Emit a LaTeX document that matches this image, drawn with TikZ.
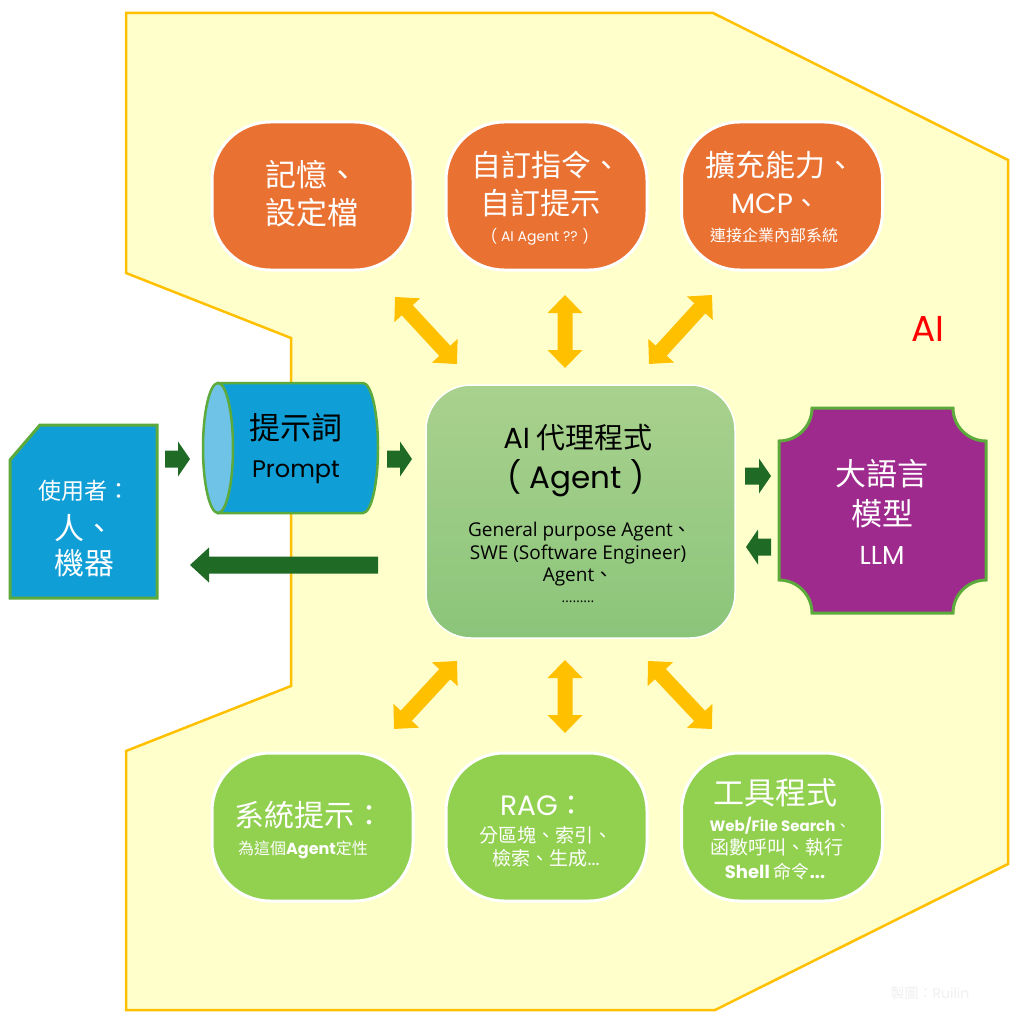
\documentclass[tikz,border=0pt]{standalone}
\usepackage{fontspec}
\setmainfont{Noto Sans CJK TC}
\newfontfamily\cj{Noto Sans CJK TC}
\newfontfamily\pp{Poppins}
\newfontfamily\os{Open Sans}
\newcommand\fsz[1]{\fontsize{#1}{#1}\selectfont}
\definecolor{bgyel}{HTML}{FFFFCC}
\definecolor{edgeyel}{HTML}{FFC000}
\definecolor{orng}{HTML}{E97132}
\definecolor{lgreen}{HTML}{92D050}
\definecolor{dgreen}{HTML}{1F6B25}
\definecolor{bgreen}{HTML}{5DAA3C}
\definecolor{ublue}{HTML}{0F9ED5}
\definecolor{cface}{HTML}{6EC3E6}
\definecolor{purp}{HTML}{9E2A8E}
\definecolor{agtop}{HTML}{A9D18E}
\definecolor{agbot}{HTML}{8BC57A}
% horizontal block arrow: tail x, tip x, y centre, signed head length
\newcommand\harrow[4]{%
  \fill[dgreen] (#1,{#3-8.5}) -- ({#2-#4},{#3-8.5}) -- ({#2-#4},{#3-17.5}) -- (#2,#3)
    -- ({#2-#4},{#3+17.5}) -- ({#2-#4},{#3+8.5}) -- (#1,{#3+8.5}) -- cycle;}
% double block arrow from (#1,#2) to (#3,#4)
\newcommand\yarrow[4]{%
  \pgfmathsetmacro\yang{atan2(-(#4-#2),#3-#1)}%
  \pgfmathsetmacro\ylen{veclen(#3-#1,#4-#2)}%
  \begin{scope}[shift={(#1,#2)},rotate=\yang]
    \fill[edgeyel] (0,0) -- (18,-17.5) -- (18,-7.5) -- ({\ylen-18},-7.5) -- ({\ylen-18},-17.5)
      -- (\ylen,0) -- ({\ylen-18},17.5) -- ({\ylen-18},7.5) -- (18,7.5) -- (18,17.5) -- cycle;
  \end{scope}}
\begin{document}
\begin{tikzpicture}[x=1pt,y=-1pt,
  txt/.style={inner sep=0pt, anchor=base},
  obox/.style={draw=white, line width=3pt, fill=orng, rounded corners=58pt,
    minimum width=201pt, minimum height=148pt, inner sep=0pt},
  gbox/.style={obox, fill=lgreen}]
\useasboundingbox (0,0) rectangle (1024,1024);
\fill[white] (0,0) rectangle (1024,1024);
% AI region
\filldraw[fill=bgyel, draw=edgeyel, line width=2.5pt, line join=miter]
  (126,13) -- (713,13) -- (1008,160) -- (1008,864) -- (715,1010) -- (126,1010)
  -- (126,751) -- (291,686) -- (291,338) -- (126,273) -- cycle;
\node[txt, font=\pp\fsz{36}, text=red] (ai) at (928,341) {AI};
\node[txt, font=\cj\fsz{14}, text=black!6] (wm) at (930,998) {製圖：{\pp Ruilin}};

% top boxes
\node[obox] (m1) at (312.5,196) {};
\node[obox] (m2) at (546.5,196) {};
\node[obox] (m3) at (782,196) {};
\node[txt, font=\cj\fsz{31}, text=white] (m1a) at (312,187) {記憶、};
\node[txt, font=\cj\fsz{31}, text=white] (m1b) at (312,225) {設定檔};
\node[txt, font=\cj\fsz{30}, text=white] (m2a) at (546,176.5) {自訂指令、};
\node[txt, font=\cj\fsz{30}, text=white] (m2b) at (540,214.5) {自訂提示};
\node[txt, font=\pp\fsz{14}, text=white] (m2c) at (540,241) {( AI Agent ?? )};
\node[txt, font=\cj\fsz{30}, text=white] (m3a) at (780,176.5) {擴充能力、};
\node[txt, font=\cj\fsz{28}, text=white] (m3b) at (776,214) {{\pp MCP}、};
\node[txt, font=\cj\fsz{16}, text=white] (m3c) at (774,241) {連接企業內部系統};

% bottom boxes
\node[gbox] (g1) at (312.5,827) {};
\node[gbox] (g2) at (546.5,827) {};
\node[gbox] (g3) at (782,827) {};
\node[txt, font=\cj\fsz{30}, text=white] (g1a) at (309,826) {系統提示：};
\node[txt, font=\cj\fsz{16}, text=white] (g1b) at (303,854) {為這個{\pp\bfseries Agent}定性};
\node[txt, font=\cj\fsz{28}, text=white] (g2a) at (543,815) {{\pp RAG}：};
\node[txt, font=\cj\fsz{19}, text=white] (g2b) at (546,842) {分區塊、索引、};
\node[txt, font=\cj\fsz{19}, text=white] (g2c) at (546,865) {檢索、生成{\pp ...}};
\node[txt, font=\cj\fsz{31}, text=white] (g3a) at (775,804) {工具程式};
\node[txt, font=\cj\fsz{15}, text=white] (g3b) at (780,831) {{\pp\bfseries Web/File Search}、};
\node[txt, font=\cj\fsz{19}, text=white] (g3c) at (777,854) {函數呼叫、執行};
\node[txt, font=\cj\fsz{18}, text=white] (g3d) at (775,878) {{\pp\bfseries Shell} 命令{\pp\bfseries ...}};

% agent box
\node[draw=white, line width=1.5pt, rounded corners=45pt, top color=agtop, bottom color=agbot,
  minimum width=309pt, minimum height=253pt, inner sep=0pt] (ag) at (580.5,511.5) {};
\node[txt, font=\cj\fsz{29}] (a1) at (578,448) {{\pp AI} 代理程式};
\node[txt, font=\pp\fsz{31}] (a2) at (576,488) {( Agent )};
\node[txt, font=\cj\fsz{19}] (a3) at (580,536) {{\os General purpose Agent}、};
\node[txt, font=\os\fsz{19}] (a4) at (578,559) {SWE (Software Engineer)};
\node[txt, font=\cj\fsz{19}] (a5) at (578,581) {{\os Agent}、};
\node[txt, font=\os\fsz{14}] (a6) at (578,602) {………};

% user box
\filldraw[fill=ublue, draw=bgreen, line width=3pt, line join=miter]
  (40,425) -- (157,425) -- (157,598) -- (10,598) -- (10,460) -- cycle;
\node[txt, font=\cj\fsz{23}, text=white] (u1) at (84,499) {使用者：};
\node[txt, font=\cj\fsz{30}, text=white] (u2) at (84,539) {人、};
\node[txt, font=\cj\fsz{30}, text=white] (u3) at (84,574) {機器};

% prompt cylinder
\filldraw[fill=ublue, draw=bgreen, line width=2.5pt]
  (218,383) -- (363,383) .. controls (371.3,383) and (378,412.1) .. (378,448)
  .. controls (378,483.9) and (371.3,513) .. (363,513) -- (218,513) -- cycle;
\filldraw[fill=cface, draw=bgreen, line width=2.5pt] (218,448) ellipse [x radius=15pt, y radius=65pt];
\node[txt, font=\cj\fsz{31}] (p1) at (296,439) {提示詞};
\node[txt, font=\pp\fsz{24}] (p2) at (296,477) {Prompt};

% LLM
\filldraw[fill=purp, draw=bgreen, line width=3pt]
  (812,408) -- (953,408) .. controls (953,426.2) and (967.8,441) .. (986,441)
  -- (986,580) .. controls (967.8,580) and (953,594.8) .. (953,613)
  -- (812,613) .. controls (812,594.8) and (797.2,580) .. (779,580)
  -- (779,441) .. controls (797.2,441) and (812,426.2) .. (812,408) -- cycle;
\node[txt, font=\cj\fsz{31}, text=white] (l1) at (882,485) {大語言};
\node[txt, font=\cj\fsz{31}, text=white] (l2) at (882,525) {模型};
\node[txt, font=\pp\fsz{26}, text=white] (l3) at (882,564) {LLM};

% green arrows
\harrow{165}{190}{459}{12}
\harrow{387}{412}{459}{12}
\harrow{378}{190}{565}{-19}
\harrow{745}{771}{476}{12}
\harrow{771}{746}{547}{-12}

% yellow double arrows
\yarrow{395}{297}{457}{364}
\yarrow{565}{295}{565}{368}
\yarrow{712}{295}{649}{364}
\yarrow{457}{661}{394}{729}
\yarrow{565}{660}{565}{733}
\yarrow{648}{661}{712}{729}
\end{tikzpicture}
\end{document}
